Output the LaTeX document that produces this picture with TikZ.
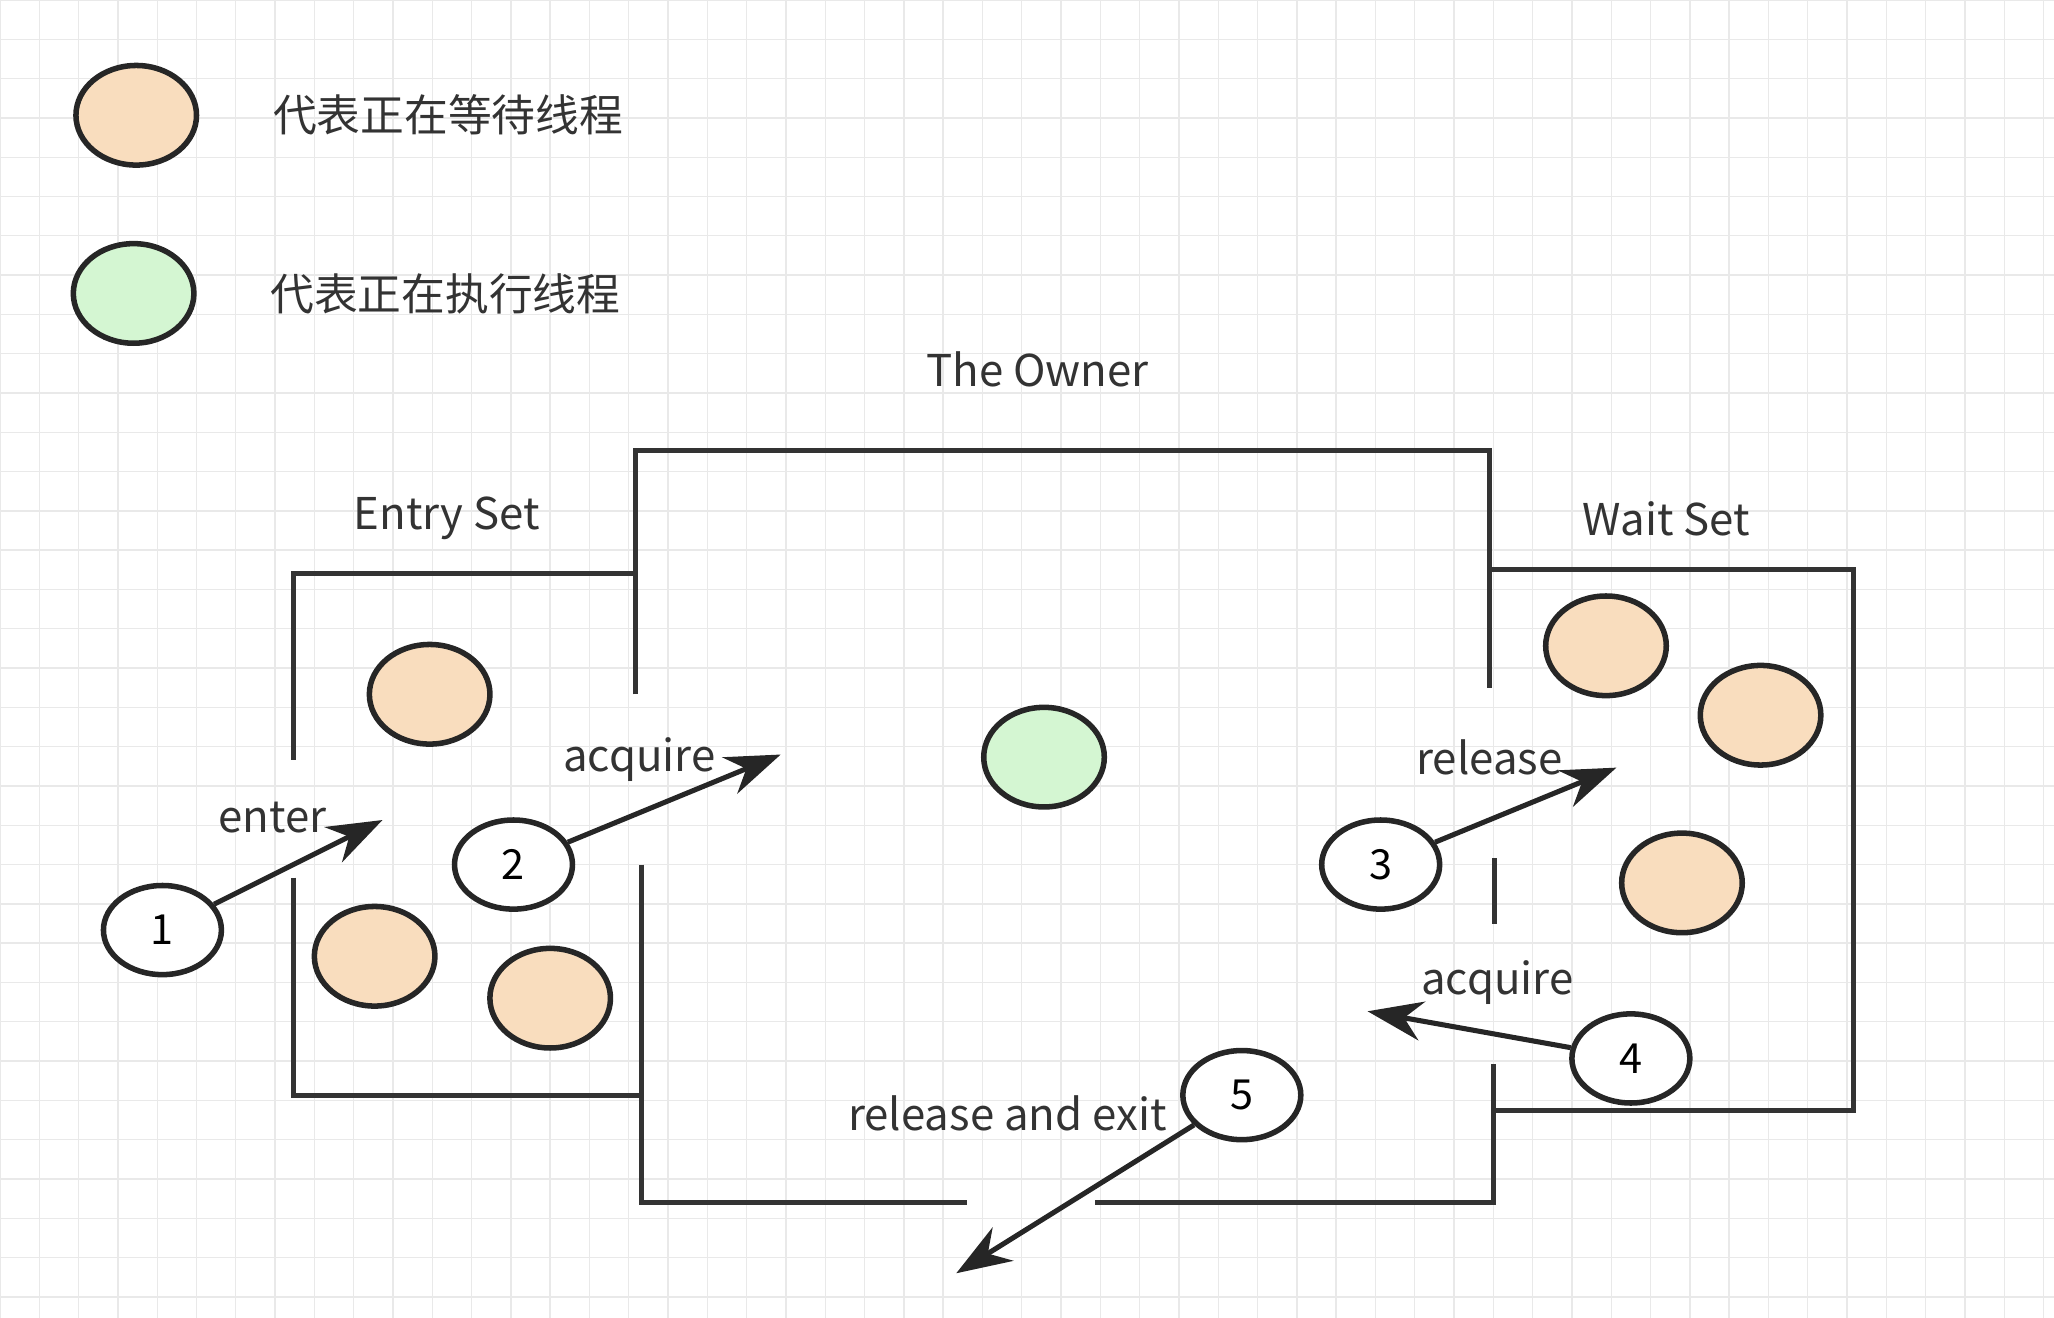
\documentclass[tikz,border=0pt]{standalone}
\usepackage{fontspec}
\newfontfamily\cjk{Noto Sans CJK SC}
\usetikzlibrary{arrows.meta,shapes.geometric}
\definecolor{waitfill}{HTML}{F9DDBE}
\definecolor{runfill}{HTML}{D4F6D2}
\definecolor{gridgray}{HTML}{E9E9E9}
\tikzset{
  thread/.style={ellipse,draw=black!85,line width=1.2pt,minimum width=0.92cm,minimum height=0.76cm,inner sep=0pt},
  waiting/.style={thread,fill=waitfill},
  running/.style={thread,fill=runfill},
  stepnum/.style={ellipse,draw=black!85,line width=1.2pt,fill=white,minimum width=0.9cm,minimum height=0.68cm,inner sep=0pt,font=\cjk\fontsize{9}{9}\selectfont},
  tagtext/.style={font=\cjk\fontsize{9.5}{10}\selectfont,text=black!80},
  wall/.style={line width=1.1pt,draw=black!80},
  flow/.style={line width=1.1pt,draw=black!85,-{Stealth[length=0.42cm,width=0.3cm]}}
}
\begin{document}
\begin{tikzpicture}[x=0.01cm,y=-0.01cm]
\useasboundingbox (0,0) rectangle (1568,1006);

% Background grid.
\foreach \gx in {0,30,...,1560} \draw[gridgray,line width=0.3pt] (\gx,0) -- (\gx,1006);
\foreach \gy in {0,30,...,1000} \draw[gridgray,line width=0.3pt] (0,\gy) -- (1568,\gy);

% Legend.
\node[waiting] (legwait) at (104,88) {};
\node[tagtext,anchor=west] (legwaittext) at (196,88) {代表正在等待线程};
\node[running] (legrun) at (102,224) {};
\node[tagtext,anchor=west] (legruntext) at (194,224) {代表正在执行线程};

% Titles.
\node[tagtext] (owner) at (792,282) {The Owner};
\node[tagtext] (entry) at (341,396) {Entry Set};
\node[tagtext] (waitset) at (1272,396) {Wait Set};

% Owner box.
\draw[wall] (485,530) -- (485,344) -- (1137,344) -- (1137,525);
\draw[wall] (490,660) -- (490,918) -- (738,918);
\draw[wall] (836,918) -- (1140,918) -- (1140,812);
\draw[wall] (1141,655) -- (1141,705);

% Entry set box.
\draw[wall] (224,580) -- (224,438) -- (485,438);
\draw[wall] (224,670) -- (224,836) -- (490,836);

% Wait set box.
\draw[wall] (1137,435) -- (1415,435) -- (1415,848) -- (1141,848);

% Threads.
\node[waiting] (e1) at (328,530) {};
\node[waiting] (e2) at (286,730) {};
\node[waiting] (e3) at (420,762) {};
\node[waiting] (w1) at (1226,493) {};
\node[waiting] (w2) at (1344,546) {};
\node[waiting] (w3) at (1284,674) {};
\node[running] (run) at (797,578) {};

% Steps.
\node[stepnum] (s1) at (124,710) {1};
\node[stepnum] (s2) at (392,660) {2};
\node[stepnum] (s3) at (1054,660) {3};
\node[stepnum] (s4) at (1245,808) {4};
\node[stepnum] (s5) at (948,836) {5};

% Arrow ends.
\coordinate (t1) at (292,626);
\coordinate (t2) at (596,576);
\coordinate (t3) at (1234,586);
\coordinate (t4) at (1044,772);
\coordinate (t5) at (730,972);

\draw[flow] (s1) -- (t1);
\draw[flow] (s2) -- (t2);
\draw[flow] (s3) -- (t3);
\draw[flow] (s4) -- (t4);
\draw[flow] (s5) -- (t5);

% Arrow labels.
\node[tagtext] (l1) at (208,624) {enter};
\node[tagtext] (l2) at (488,580) {acquire};
\node[tagtext] (l3) at (1137,578) {release};
\node[tagtext] (l4) at (1143,750) {acquire};
\node[tagtext] (l5) at (769,850) {release and exit};
\end{tikzpicture}
\end{document}
